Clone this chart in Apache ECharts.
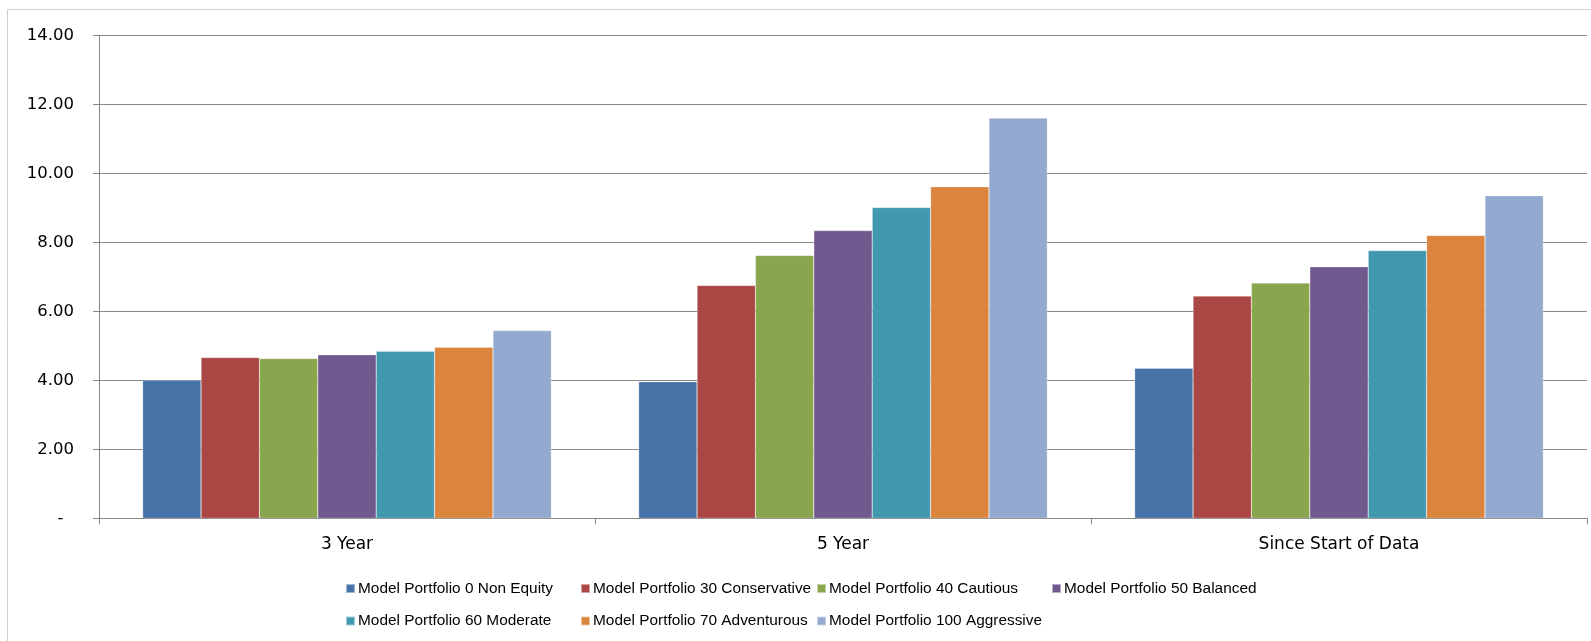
<!DOCTYPE html>
<html>
<head>
<meta charset="utf-8">
<script src="https://cdn.jsdelivr.net/npm/echarts@6/dist/echarts.min.js"></script>
<style>
html,body{margin:0;padding:0;background:#fff;}
#c{width:1591px;height:641px;}
</style>
</head>
<body>
<div id="c"></div>
<script>
var categories = ['3 Year', '5 Year', 'Since Start of Data'];
var seriesNames = [
  'Model Portfolio 0 Non Equity',
  'Model Portfolio 30 Conservative',
  'Model Portfolio 40 Cautious',
  'Model Portfolio 50 Balanced',
  'Model Portfolio 60 Moderate',
  'Model Portfolio 70 Adventurous',
  'Model Portfolio 100 Aggressive'
];
var p0 = [4.00, 3.96, 4.35];
var p30 = [4.66, 6.75, 6.44];
var p40 = [4.63, 7.62, 6.82];
var p50 = [4.74, 8.34, 7.29];
var p60 = [4.84, 9.01, 7.76];
var p70 = [4.96, 9.61, 8.20];
var p100 = [5.44, 11.60, 9.35];
var yTicks = [0, 2, 4, 6, 8, 10, 12, 14];

var values = [p0, p30, p40, p50, p60, p70, p100];
var colors = ['#4572A7', '#AA4643', '#89A54E', '#71588F', '#4198AF', '#DB843D', '#93A9CF'];
var legendPos = [
  [345, 581], [580, 581], [816, 581], [1051, 581],
  [345, 613.5], [580, 613.5], [816, 613.5]
];

var chart = echarts.init(document.getElementById('c'));
var series = seriesNames.map(function (n, i) {
  return {
    name: n,
    type: 'bar',
    data: values[i],
    barGap: '0%',
    barCategoryGap: '17.6%',
    itemStyle: { color: colors[i], borderColor: 'rgba(255,255,255,0.5)', borderWidth: 0.5 }
  };
});
var legends = seriesNames.map(function (n, i) {
  return {
    data: [n],
    left: legendPos[i][0],
    top: legendPos[i][1],
    icon: 'rect',
    itemWidth: 9,
    itemHeight: 9,
    itemGap: 0,
    padding: 0,
    textStyle: { fontFamily: 'Liberation Sans', fontSize: 15.4, color: '#000', padding: [0, 0, 0, -2] }
  };
});

chart.setOption({
  animation: false,
  backgroundColor: '#fff',
  color: colors,
  graphic: [{
    type: 'rect',
    shape: { x: 7.5, y: 9.5, width: 1700, height: 700 },
    style: { fill: 'none', stroke: '#d0d0d0', lineWidth: 1 },
    silent: true
  }],
  legend: legends,
  grid: { left: 99, right: 4, top: 35.3, bottom: 122.7 },
  xAxis: {
    type: 'category',
    data: categories,
    axisLine: { lineStyle: { color: '#868686', width: 1 } },
    axisTick: { show: true, length: 6, lineStyle: { color: '#868686' } },
    axisLabel: { fontFamily: 'DejaVu Sans', fontSize: 17, color: '#000', margin: 18 },
    splitLine: { show: false }
  },
  yAxis: {
    type: 'value',
    min: yTicks[0],
    max: yTicks[yTicks.length - 1],
    interval: 2,
    axisLine: { show: true, lineStyle: { color: '#868686', width: 1 } },
    axisTick: { show: true, length: 6, lineStyle: { color: '#868686' } },
    axisLabel: {
      fontFamily: 'DejaVu Sans', fontSize: 16.5, color: '#000', margin: 25,
      formatter: function (v) { return v === 0 ? '-  ' : v.toFixed(2); }
    },
    splitLine: { show: true, lineStyle: { color: '#8a8a8a', width: 1 } }
  },
  series: series
});
</script>
</body>
</html>
